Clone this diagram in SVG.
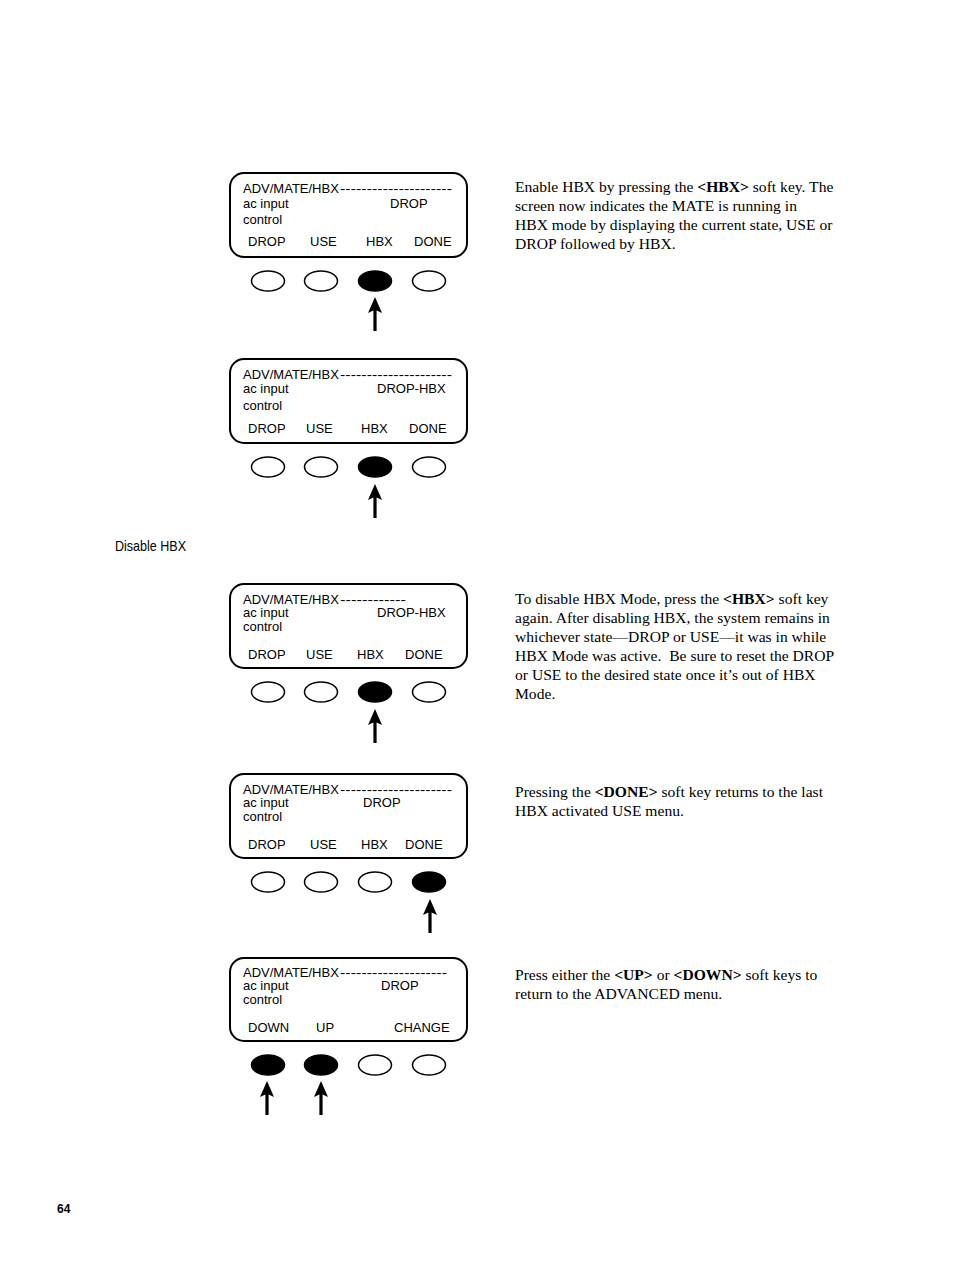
<svg xmlns="http://www.w3.org/2000/svg" width="954" height="1272" viewBox="0 0 954 1272">
<style>
.scr{fill:#fff;stroke:#000;stroke-width:2}
.key{fill:#fff;stroke:#000;stroke-width:1.5}
.on{fill:#000;stroke:#000;stroke-width:1.5}
.t{font-family:"Liberation Sans",Arial,sans-serif;font-size:13px;fill:#000}
.p{font-family:"Liberation Serif","Times New Roman",serif;font-size:15.6px;fill:#000}
.b{font-weight:bold}
.arr{fill:#000;stroke:none}
</style>
<defs>
<path id="arrow" class="arr" d="M0,0 L7,16 L1.6,13.5 L1.6,34 L-1.6,34 L-1.6,13.5 L-7,16 Z"/>
</defs>
<rect width="954" height="1272" fill="#fff"/>

<g id="panel1">
<rect class="scr" x="230" y="173" width="237" height="84" rx="14"/>
<text class="t" x="243" y="193">ADV/MATE/HBX</text><text class="t" x="340" y="193" textLength="112" lengthAdjust="spacingAndGlyphs">---------------------</text>
<text class="t" x="243" y="208">ac input</text><text class="t" x="390" y="208">DROP</text>
<text class="t" x="243" y="224">control</text>
<text class="t" x="248" y="246">DROP</text><text class="t" x="310" y="246">USE</text><text class="t" x="366" y="246">HBX</text><text class="t" x="414" y="246">DONE</text>
<ellipse class="key" cx="268" cy="281" rx="16.5" ry="10"/><ellipse class="key" cx="321" cy="281" rx="16.5" ry="10"/><ellipse class="on" cx="375" cy="281" rx="16.5" ry="10"/><ellipse class="key" cx="429" cy="281" rx="16.5" ry="10"/>
</g>

<g id="panel2">
<rect class="scr" x="230" y="359" width="237" height="84" rx="14"/>
<text class="t" x="243" y="379">ADV/MATE/HBX</text><text class="t" x="340" y="379" textLength="112" lengthAdjust="spacingAndGlyphs">---------------------</text>
<text class="t" x="243" y="393">ac input</text><text class="t" x="377" y="393">DROP-HBX</text>
<text class="t" x="243" y="410">control</text>
<text class="t" x="248" y="433">DROP</text><text class="t" x="306" y="433">USE</text><text class="t" x="361" y="433">HBX</text><text class="t" x="409" y="433">DONE</text>
<ellipse class="key" cx="268" cy="467" rx="16.5" ry="10"/><ellipse class="key" cx="321" cy="467" rx="16.5" ry="10"/><ellipse class="on" cx="375" cy="467" rx="16.5" ry="10"/><ellipse class="key" cx="429" cy="467" rx="16.5" ry="10"/>
</g>

<g id="panel3">
<rect class="scr" x="230" y="584" width="237" height="84" rx="14"/>
<text class="t" x="243" y="604">ADV/MATE/HBX</text><text class="t" x="340" y="604" textLength="66" lengthAdjust="spacingAndGlyphs">------------</text>
<text class="t" x="243" y="617">ac input</text><text class="t" x="377" y="617">DROP-HBX</text>
<text class="t" x="243" y="631">control</text>
<text class="t" x="248" y="659">DROP</text><text class="t" x="306" y="659">USE</text><text class="t" x="357" y="659">HBX</text><text class="t" x="405" y="659">DONE</text>
<ellipse class="key" cx="268" cy="692" rx="16.5" ry="10"/><ellipse class="key" cx="321" cy="692" rx="16.5" ry="10"/><ellipse class="on" cx="375" cy="692" rx="16.5" ry="10"/><ellipse class="key" cx="429" cy="692" rx="16.5" ry="10"/>
</g>

<g id="panel4">
<rect class="scr" x="230" y="774" width="237" height="84" rx="14"/>
<text class="t" x="243" y="794">ADV/MATE/HBX</text><text class="t" x="340" y="794" textLength="112" lengthAdjust="spacingAndGlyphs">---------------------</text>
<text class="t" x="243" y="807">ac input</text><text class="t" x="363" y="807">DROP</text>
<text class="t" x="243" y="821">control</text>
<text class="t" x="248" y="849">DROP</text><text class="t" x="310" y="849">USE</text><text class="t" x="361" y="849">HBX</text><text class="t" x="405" y="849">DONE</text>
<ellipse class="key" cx="268" cy="882" rx="16.5" ry="10"/><ellipse class="key" cx="321" cy="882" rx="16.5" ry="10"/><ellipse class="key" cx="375" cy="882" rx="16.5" ry="10"/><ellipse class="on" cx="429" cy="882" rx="16.5" ry="10"/>
</g>

<g id="panel5">
<rect class="scr" x="230" y="958" width="237" height="83" rx="14"/>
<text class="t" x="243" y="977">ADV/MATE/HBX</text><text class="t" x="340" y="977" textLength="107" lengthAdjust="spacingAndGlyphs">--------------------</text>
<text class="t" x="243" y="990">ac input</text><text class="t" x="381" y="990">DROP</text>
<text class="t" x="243" y="1004">control</text>
<text class="t" x="248" y="1032">DOWN</text><text class="t" x="316" y="1032">UP</text><text class="t" x="394" y="1032">CHANGE</text>
<ellipse class="on" cx="268" cy="1065" rx="16.5" ry="10"/><ellipse class="on" cx="321" cy="1065" rx="16.5" ry="10"/><ellipse class="key" cx="375" cy="1065" rx="16.5" ry="10"/><ellipse class="key" cx="429" cy="1065" rx="16.5" ry="10"/>
</g>

<g id="connectors">
<use href="#arrow" x="375" y="297"/>
<use href="#arrow" x="375" y="484"/>
<use href="#arrow" x="375" y="709"/>
<use href="#arrow" x="430" y="899"/>
<use href="#arrow" x="267" y="1081"/>
<use href="#arrow" x="321" y="1081"/>
</g>

<g id="text1">
<text class="p" x="515" y="192">Enable HBX by pressing the <tspan class="b">&lt;HBX&gt;</tspan> soft key. The</text>
<text class="p" x="515" y="211">screen now indicates the MATE is running in</text>
<text class="p" x="515" y="230">HBX mode by displaying the current state, USE or</text>
<text class="p" x="515" y="249">DROP followed by HBX.</text>
</g>
<g id="heading">
<text x="115" y="551" font-family="Liberation Sans,Arial,sans-serif" font-size="15" textLength="71" lengthAdjust="spacingAndGlyphs">Disable HBX</text>
</g>
<g id="text2">
<text class="p" x="515" y="604">To disable HBX Mode, press the <tspan class="b">&lt;HBX&gt;</tspan> soft key</text>
<text class="p" x="515" y="623">again. After disabling HBX, the system remains in</text>
<text class="p" x="515" y="642">whichever state—DROP or USE—it was in while</text>
<text class="p" x="515" y="661">HBX Mode was active.&#160; Be sure to reset the DROP</text>
<text class="p" x="515" y="680">or USE to the desired state once it’s out of HBX</text>
<text class="p" x="515" y="699">Mode.</text>
</g>
<g id="text3">
<text class="p" x="515" y="797">Pressing the <tspan class="b">&lt;DONE&gt;</tspan> soft key returns to the last</text>
<text class="p" x="515" y="816">HBX activated USE menu.</text>
</g>
<g id="text4">
<text class="p" x="515" y="980">Press either the <tspan class="b">&lt;UP&gt;</tspan> or <tspan class="b">&lt;DOWN&gt;</tspan> soft keys to</text>
<text class="p" x="515" y="999">return to the ADVANCED menu.</text>
</g>
<g id="pagenum">
<text x="57" y="1213" font-family="Liberation Sans,Arial,sans-serif" font-size="12" font-weight="bold">64</text>
</g>
</svg>
